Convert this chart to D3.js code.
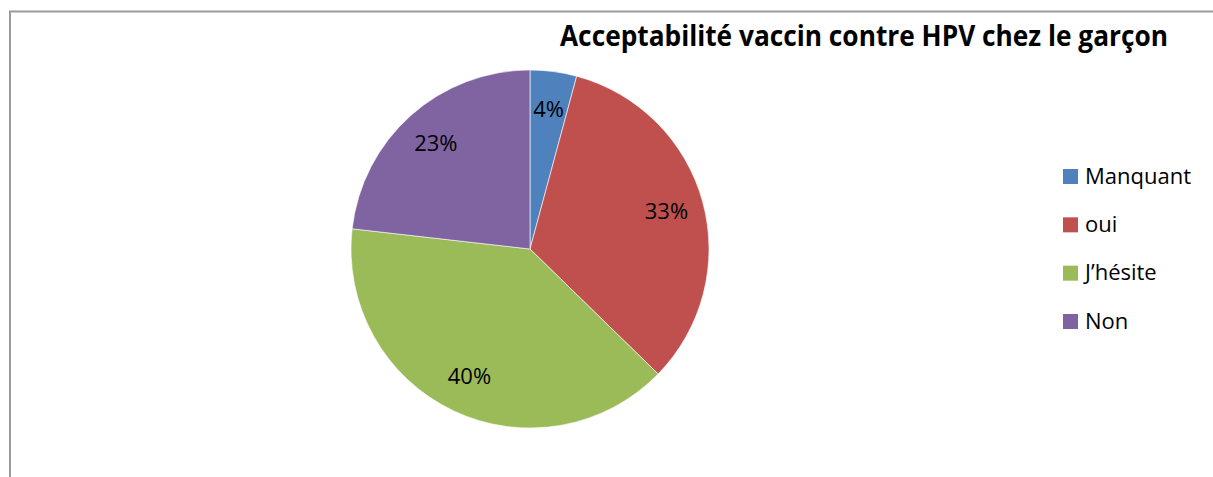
<!DOCTYPE html>
<html>
<head>
<meta charset="utf-8">
<script src="https://d3js.org/d3.v7.min.js"></script>
<style>
  body { margin: 0; background: #fff; }
  svg text { font-family: "Open Sans", Carlito, Calibri, sans-serif; }
</style>
</head>
<body>
<div id="chart"></div>
<script>
// Data
let categories = ["Manquant", "oui", "J\u2019hésite", "Non"];
let values = [4.2, 33.1, 39.5, 23.2];
let labels = ["4%", "33%", "40%", "23%"];
let colors = ["#4F81BD", "#C0504D", "#9BBB59", "#8064A2"];
let title = "Acceptabilité vaccin contre HPV chez le garçon";

let svgWidth = 1213;
let svgHeight = 477;

let svg = d3.select("#chart")
    .append("svg")
    .attr("width", svgWidth)
    .attr("height", svgHeight);

// chart frame (runs off the right and bottom edges)
svg.append("path")
    .attr("d", "M10,490 L10,11.5 L1230,11.5")
    .attr("fill", "none")
    .attr("stroke", "#9a9a9a")
    .attr("stroke-width", 2);

// title
svg.append("text")
    .attr("x", 560)
    .attr("y", 46)
    .attr("textLength", 608)
    .attr("lengthAdjust", "spacingAndGlyphs")
    .style("font-size", "28px")
    .style("font-weight", "bold")
    .attr("fill", "#000")
    .text(title);

// pie
let radius = 179;
let pieGroup = svg.append("g")
    .attr("transform", "translate(530, 249)");

let color = d3.scaleOrdinal().domain(categories).range(colors);

let pie = d3.pie()
    .sort(null)
    .value(d => d.value);

let tableData = categories.map((c, i) => ({ name: c, value: values[i], label: labels[i] }));

let arc = d3.arc().innerRadius(0).outerRadius(radius);
let labelArc = d3.arc().innerRadius(radius * 0.79).outerRadius(radius * 0.79);

let slices = pieGroup.selectAll("g.slice")
    .data(pie(tableData))
    .enter()
    .append("g")
    .attr("class", "slice");

slices.append("path")
    .attr("d", arc)
    .attr("fill", d => color(d.data.name))
    .attr("stroke", "#ffffff")
    .attr("stroke-width", 0.6);

slices.append("text")
    .attr("transform", d => "translate(" + labelArc.centroid(d) + ")")
    .attr("text-anchor", "middle")
    .attr("dy", "0.35em")
    .style("font-size", "22px")
    .attr("fill", "#000")
    .text(d => d.data.label);

// legend
let legendY = d3.scalePoint()
    .domain(categories)
    .range([176, 321]);

let legend = svg.append("g")
    .selectAll("g")
    .data(categories)
    .enter()
    .append("g")
    .attr("transform", d => `translate(1063, ${legendY(d)})`);

legend.append("rect")
    .attr("x", 0)
    .attr("y", -7)
    .attr("width", 15)
    .attr("height", 15)
    .attr("fill", d => color(d));

legend.append("text")
    .attr("x", 22)
    .attr("dy", "0.35em")
    .style("font-size", "22px")
    .attr("fill", "#000")
    .text(d => d);
</script>
</body>
</html>
